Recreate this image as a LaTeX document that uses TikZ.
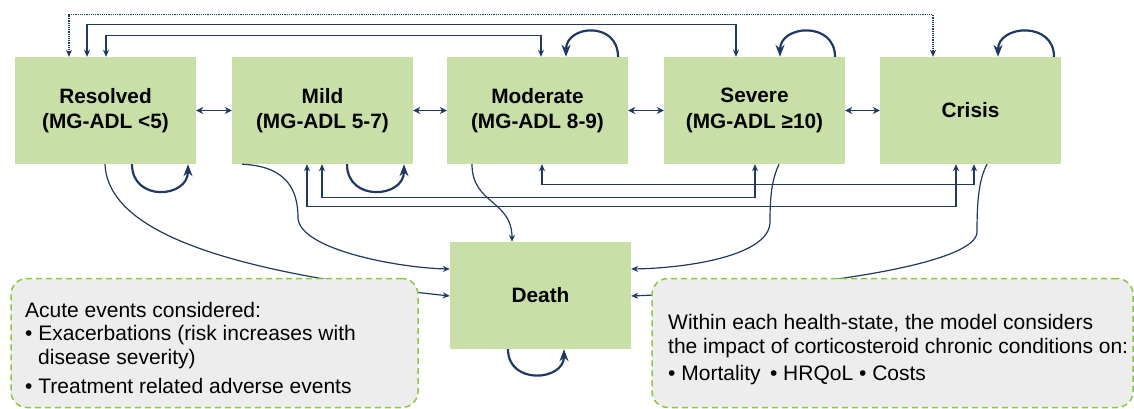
\documentclass[tikz,border=0pt]{standalone}
\usepackage{fontspec}
\setmainfont{Liberation Sans}
\usetikzlibrary{arrows.meta,calc}
\definecolor{navy}{RGB}{31,56,100}
\definecolor{boxgreen}{RGB}{200,224,168}
\definecolor{dashgreen}{RGB}{141,198,63}
\definecolor{notegray}{RGB}{237,237,237}
\begin{document}
\begin{tikzpicture}[x=1pt,y=-1pt,
  state/.style={fill=boxgreen, minimum width=181, minimum height=107, inner sep=0pt, align=center, font=\bfseries\fontsize{20.8}{25.5}\selectfont},
  conn/.style={draw=navy, line width=1.2pt, -{Stealth[length=7pt,width=6pt]}},
  conn2/.style={draw=navy, line width=1.2pt, {Stealth[length=7pt,width=6pt]}-{Stealth[length=7pt,width=6pt]}},
  side/.style={draw=navy, line width=1.8pt, {Stealth[length=7pt,width=7pt]}-{Stealth[length=7pt,width=7pt]}},
  selfloop/.style={draw=navy, line width=2.2pt, -{Stealth[length=12pt,width=9pt]}},
  note/.style={fill=notegray, draw=dashgreen, line width=1.5pt, dash pattern=on 6pt off 4pt, rounded corners=16pt},
  notetext/.style={anchor=base west, inner sep=0pt, font=\fontsize{21}{24}\selectfont}
]
\useasboundingbox (0,0) rectangle (1134,409);

% states
\node[state] (res)  at (105.5,110.5) {Resolved\\(MG-ADL <5)};
\node[state] (mild) at (322.5,110.5) {Mild\\(MG-ADL 5-7)};
\node[state] (mod)  at (537.5,110.5) {Moderate\\(MG-ADL 8-9)};
\node[state] (sev)  at (754.5,110.5) {Severe\\(MG-ADL ≥10)};
\node[state] (cri)  at (970.5,110.5) {Crisis};
\node[state] (death) at (540.5,295.5) {Death};

% neighbour transitions
\draw[side] (res.east) -- (mild.west);
\draw[side] (mild.east) -- (mod.west);
\draw[side] (mod.east) -- (sev.west);
\draw[side] (sev.east) -- (cri.west);

% top long transitions
\draw[conn2, densely dotted, line width=1.1pt] ([xshift=-36.5]res.north) -- ++(0,-42) -| ([xshift=-37.5]cri.north);
\draw[conn2] ([xshift=-18.5]res.north) -- ++(0,-32) -| ([xshift=-18.5]sev.north);
\draw[conn2] ([xshift=0.5]res.north) -- ++(0,-21) -| ([xshift=3.5]mod.north);

% bottom long transitions
\draw[conn2] ([xshift=4.5]mod.south) -- ++(0,20) -| ([xshift=3.5]cri.south);
\draw[conn2] ([xshift=-0.5]mild.south) -- ++(0,33) -| ([xshift=0.5]sev.south);
\draw[conn2] ([xshift=-15.5]mild.south) -- ++(0,42) -| ([xshift=-14.5]cri.south);

% self loops
\draw[selfloop] ([xshift=26.5]res.south) .. controls +(0,38) and +(0,34) .. ([xshift=82.5]res.south);
\draw[selfloop] ([xshift=24.5]mild.south) .. controls +(0,38) and +(0,34) .. ([xshift=81.5]mild.south);
\draw[selfloop] ([xshift=80.5]mod.north) .. controls +(0,-36) and +(0,-32) .. ([xshift=28.5]mod.north);
\draw[selfloop] ([xshift=80.5]sev.north) .. controls +(0,-36) and +(0,-32) .. ([xshift=25.5]sev.north);
\draw[selfloop] ([xshift=83.5]cri.north) .. controls +(0,-36) and +(0,-32) .. ([xshift=27.5]cri.north);
\draw[selfloop] ([xshift=-32.5]death.south) .. controls +(0,36) and +(0,32) .. ([xshift=23.5]death.south);

% transitions to death
\draw[conn] ([xshift=-0.5]res.south) .. controls +(3,70) and (235,273) .. ([yshift=-0.5]death.west);
\draw[conn] ([xshift=-80.5]mild.south) .. controls +(45,2) and (298,190) .. (298,218) .. controls (300,250) and (400,268) .. ([yshift=26.5]death.west);
\draw[conn] ([xshift=-65.5]mod.south) .. controls +(0,40) and (512,200) .. ([xshift=-28.5]death.north);
\draw[conn] ([xshift=24.5]sev.south) .. controls +(-7,15) and (770,195) .. (770,222) .. controls (770,255) and (690,268) .. ([yshift=26.5]death.east);
\draw[conn] ([xshift=16.5]cri.south) .. controls +(-8,15) and (977,200) .. (977,232) .. controls (977,262) and (830,288) .. ([yshift=-0.5]death.east);

% notes
\node[note, minimum width=407, minimum height=129, inner sep=0pt] (left) at (214.5,343) {};
\node[note, minimum width=481, minimum height=129, inner sep=0pt] (right) at (892.5,343) {};
\node[notetext] (l1) at (25,317) {Acute events considered:};
\node[notetext] (l2) at (25,340) {• Exacerbations (risk increases with};
\node[notetext] (l3) at (38,364) {disease severity)};
\node[notetext] (l4) at (25,393) {• Treatment related adverse events};
\node[notetext] (r1) at (668,329) {Within each health-state, the model considers};
\node[notetext] (r2) at (668,353) {the impact of corticosteroid chronic conditions on:};
\node[notetext] (r3) at (668,380) {• Mortality \,• HRQoL • Costs};
\end{tikzpicture}
\end{document}
